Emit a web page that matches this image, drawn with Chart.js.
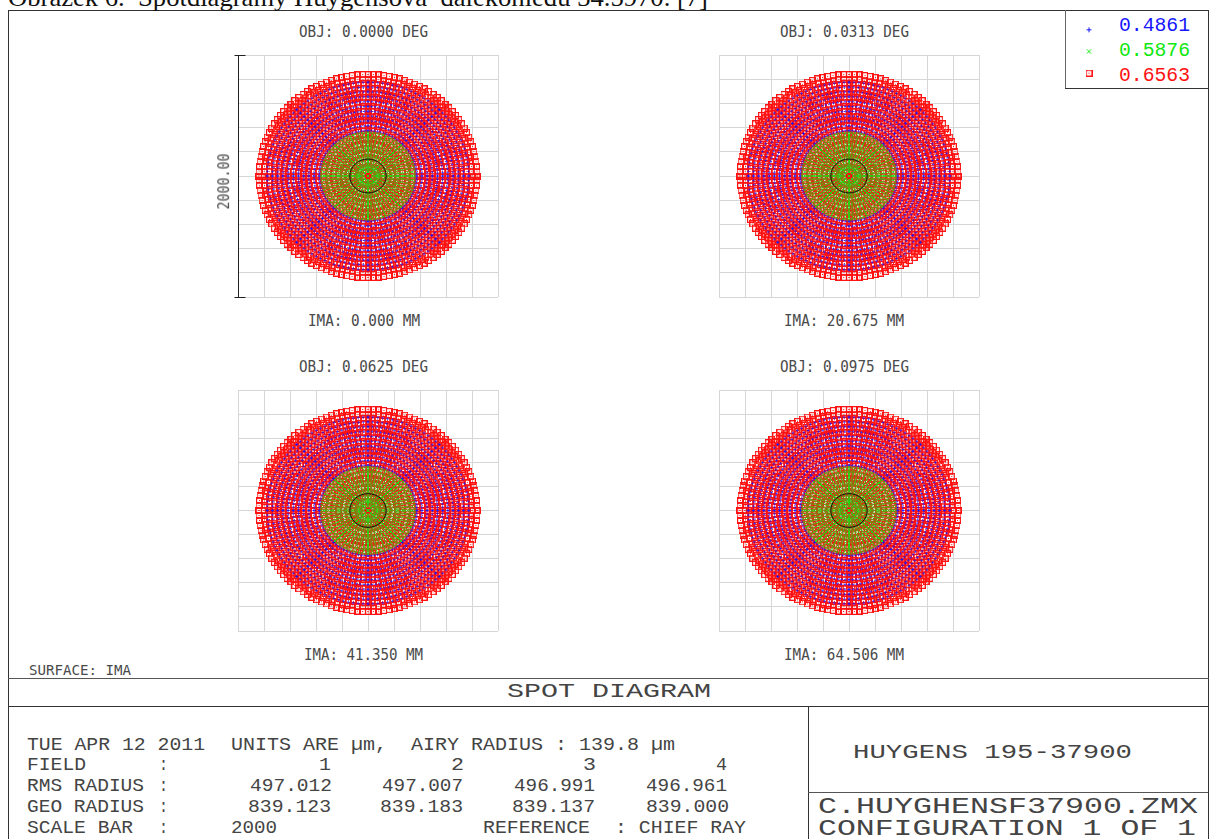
<!DOCTYPE html>
<html>
<head>
<meta charset="utf-8">
<title>Spot diagram</title>
<script src="https://cdn.jsdelivr.net/npm/chart.js@4"></script>
<style>
  html, body { margin: 0; background: #fff; overflow: hidden; }
  #page { position: relative; width: 1222px; height: 839px; overflow: hidden; }
  #page canvas { position: absolute; }
  .rule { position: absolute; background: #333; }
  .txt {
    position: absolute; white-space: pre; line-height: 1;
    font-family: "DejaVu Sans Mono", monospace; color: #4a4a4a;
    transform-origin: 0 50%;
  }
  .thin { font-family: "Liberation Mono", monospace; color: #444; }
</style>
</head>
<body>
<div id="page"></div>
<script>
// wavelengths (um) and their colours
const wavelengths = ['0.4861', '0.5876', '0.6563'];
const waveColors = ['#1616ff', '#10e810', '#ff1212'];
const spotColors = ['rgba(22,22,255,0.6)', 'rgba(16,232,16,0.75)', '#ff1212'];

// one field point per panel
const objLabels = ['OBJ: 0.0000 DEG', 'OBJ: 0.0313 DEG', 'OBJ: 0.0625 DEG', 'OBJ: 0.0975 DEG'];
const imaLabels = ['IMA: 0.000 MM', 'IMA: 20.675 MM', 'IMA: 41.350 MM', 'IMA: 64.506 MM'];

const airyRadius = 139.8;
const scaleBar = 2000;
const gridStep = 200;

// ray hits in um, one octant of the spot
const redOctant = [
  [839,0],[838,41],[835,82],[830,123],[823,164],[814,204],[803,244],[790,283],[775,321],[758,359],[740,396],[720,431],[698,466],[674,500],[649,532],[622,563],[593,593],
  [800,0],[799,39],[796,78],[791,117],[785,156],[776,194],[766,232],[753,270],[739,306],[723,342],[706,377],[686,411],[665,444],[643,477],[618,508],[593,537],[566,566],
  [762,0],[761,37],[758,75],[754,112],[747,149],[739,185],[729,221],[717,257],[704,292],[689,326],[672,359],[654,392],[634,423],[612,454],[589,483],[565,512],[539,539],
  [724,0],[723,36],[721,71],[716,106],[710,141],[702,176],[693,210],[682,244],[669,277],[655,310],[638,341],[621,372],[602,402],[582,431],[560,459],[536,486],[512,512],
  [686,0],[685,34],[683,67],[679,101],[673,134],[665,167],[656,199],[646,231],[634,263],[620,293],[605,323],[588,353],[570,381],[551,409],[530,435],[508,461],[485,485],
  [648,0],[647,32],[645,64],[641,95],[636,126],[629,157],[620,188],[610,218],[599,248],[586,277],[571,305],[556,333],[539,360],[520,386],[501,411],[480,435],[458,458],
  [610,0],[609,40],[605,80],[598,119],[589,158],[578,196],[564,233],[547,270],[528,305],[507,339],[484,371],[459,402],[431,431],
  [572,0],[571,37],[567,75],[561,112],[553,148],[542,184],[528,219],[513,253],[495,286],[476,318],[454,348],[430,377],[404,404],
  [534,0],[533,35],[529,70],[524,104],[516,138],[506,172],[493,204],[479,236],[462,267],[444,297],[424,325],[401,352],[378,378],
  [496,0],[495,32],[492,65],[486,97],[479,128],[470,159],[458,190],[445,219],[430,248],[412,276],[394,302],[373,327],[351,351],
  [458,0],[457,30],[454,60],[449,89],[442,119],[434,147],[423,175],[411,203],[397,229],[381,254],[363,279],[344,302],[324,324],
  [420,0],[418,41],[412,82],[402,122],[388,161],[370,198],[349,233],[325,266],[297,297],
  [382,0],[380,37],[375,75],[366,111],[353,146],[337,180],[318,212],[295,242],[270,270],
  [344,0],[342,34],[337,67],[329,100],[318,132],[303,162],[286,191],[266,218],[243,243],
  [306,0],[305,30],[300,60],[293,89],[283,117],[270,144],[254,170],[237,194],[216,216],
  [268,0],[266,35],[259,69],[248,103],[232,134],[213,163],[190,190],
  [230,0],[228,30],[222,60],[212,88],[199,115],[182,140],[163,163],
  [192,0],[190,25],[185,50],[177,73],[166,96],[152,117],[136,136],
  [154,0],[151,30],[142,59],[128,86],[109,109],
  [116,0],[114,23],[107,44],[96,64],[82,82],
  [78,0],[72,30],[55,55],
  [40,0],[28,28],
  [0,0],
];
const blueOctant = [
  [775,0],[774,38],[771,76],[767,114],[760,151],[752,188],[742,225],[730,261],[716,297],[701,331],[683,365],[665,398],[644,431],[622,462],[599,492],[574,521],[548,548],
  [735,0],[734,36],[731,72],[727,108],[721,143],[713,179],[703,213],[692,248],[679,281],[664,314],[648,346],[630,378],[611,408],[590,438],[568,466],[545,494],[520,520],
  [695,0],[694,34],[692,68],[687,102],[682,136],[674,169],[665,202],[654,234],[642,266],[628,297],[613,328],[596,357],[578,386],[558,414],[537,441],[515,467],[491,491],
  [655,0],[654,32],[652,64],[648,96],[642,128],[635,159],[627,190],[617,221],[605,251],[592,280],[578,309],[562,337],[545,364],[526,390],[506,416],[485,440],[463,463],
  [615,0],[614,30],[612,60],[608,90],[603,120],[597,149],[588,179],[579,207],[568,235],[556,263],[542,290],[527,316],[511,342],[494,366],[475,390],[456,413],[435,435],
  [575,0],[574,28],[572,56],[569,84],[564,112],[558,140],[550,167],[541,194],[531,220],[520,246],[507,271],[493,296],[478,319],[462,343],[444,365],[426,386],[407,407],
  [535,0],[534,26],[532,52],[529,78],[525,104],[519,130],[512,155],[504,180],[494,205],[484,229],[472,252],[459,275],[445,297],[430,319],[414,339],[396,359],[378,378],
  [495,0],[494,32],[491,65],[485,97],[478,128],[469,159],[457,189],[444,219],[429,248],[412,275],[393,301],[372,326],[350,350],
  [455,0],[454,30],[451,59],[446,89],[439,118],[431,146],[420,174],[408,201],[394,228],[378,253],[361,277],[342,300],[322,322],
  [415,0],[414,27],[411,54],[407,81],[401,107],[393,133],[383,159],[372,184],[359,208],[345,231],[329,253],[312,274],[293,293],
  [375,0],[374,25],[372,49],[368,73],[362,97],[355,121],[346,144],[336,166],[325,188],[312,208],[298,228],[282,247],[265,265],
];
const greenOctant = [
  [358,0],[357,23],[355,47],[351,70],[346,93],[339,115],[331,137],[321,158],[310,179],[298,199],[284,218],[269,236],[253,253],
  [340,0],[338,33],[333,66],[325,99],[314,130],[300,160],[283,189],[263,216],[240,240],
  [322,0],[321,21],[319,42],[316,63],[311,83],[305,103],[297,123],[289,142],[279,161],[268,179],[255,196],[242,212],[228,228],
  [304,0],[303,30],[298,59],[291,88],[281,116],[268,143],[253,169],[235,193],[215,215],
  [286,0],[285,28],[281,56],[274,83],[264,109],[252,135],[238,159],[221,181],[202,202],
  [268,0],[267,26],[263,52],[256,78],[248,103],[236,126],[223,149],[207,170],[190,190],
  [250,0],[249,25],[245,49],[239,73],[231,96],[220,118],[208,139],[193,159],[177,177],
  [232,0],[231,23],[228,45],[222,67],[214,89],[205,109],[193,129],[179,147],[164,164],
  [214,0],[213,21],[210,42],[205,62],[198,82],[189,101],[178,119],[165,136],[151,151],
  [196,0],[194,26],[189,51],[181,75],[170,98],[156,119],[139,139],
  [178,0],[176,23],[172,46],[164,68],[154,89],[141,108],[126,126],
  [160,0],[159,21],[155,41],[148,61],[139,80],[127,97],[113,113],
  [142,0],[141,19],[137,37],[131,54],[123,71],[113,86],[100,100],
  [124,0],[122,24],[115,47],[103,69],[88,88],
  [106,0],[104,21],[98,41],[88,59],[75,75],
  [88,0],[86,17],[81,34],[73,49],[62,62],
  [70,0],[69,14],[65,27],[58,39],[49,49],
  [52,0],[48,20],[37,37],
  [34,0],[24,24],
  [0,0],
];

// bottom table
const fieldRow = ['1', '2', '3', '4'];
const rmsRadius = ['497.012', '497.007', '496.991', '496.961'];
const geoRadius = ['839.123', '839.183', '839.137', '839.000'];

const page = document.getElementById('page');

function rule(x, y, w, h, color) {
  const d = document.createElement('div');
  d.className = 'rule';
  d.style.cssText = `left:${x}px;top:${y}px;width:${w}px;height:${h}px;` + (color ? `background:${color}` : '');
  page.appendChild(d);
}

// text squeezed or stretched to run from x0 to x1, centred on cy
function label(text, x0, x1, cy, size, opts = {}) {
  const s = document.createElement('span');
  s.className = 'txt' + (opts.thin ? ' thin' : '');
  s.textContent = text;
  s.style.fontSize = size + 'px';
  if (opts.family) s.style.fontFamily = opts.family;
  if (opts.color) s.style.color = opts.color;
  page.appendChild(s);
  const w = s.getBoundingClientRect().width;
  const k = (x1 - x0) / w;
  s.style.left = x0 + 'px';
  s.style.top = (cy - s.offsetHeight / 2) + 'px';
  s.style.transform = `scaleX(${k})`;
  if (opts.rotate) {
    s.style.transformOrigin = '50% 50%';
    s.style.left = (x0 - w / 2) + 'px';
    s.style.transform = `rotate(-90deg) scaleX(${k})`;
  }
  return s;
}

// the red marker is a box with a dot in the middle
function boxMarker(color) {
  const c = document.createElement('canvas');
  c.width = 7;
  c.height = 7;
  const g = c.getContext('2d');
  g.strokeStyle = color;
  g.lineWidth = 1.2;
  g.strokeRect(0.6, 0.6, 5.8, 5.8);
  g.fillStyle = color;
  g.fillRect(3, 3, 1, 1);
  return c;
}

// the octant repeated through the eight symmetric positions
function fullSpot(octant) {
  const pts = [];
  octant.forEach(([a, b]) => {
    [[a, b], [b, a]].forEach(([x, y]) => {
      [1, -1].forEach(sx => [1, -1].forEach(sy => pts.push({ x: sx * x, y: sy * y })));
    });
  });
  return pts;
}

const redBox = boxMarker(waveColors[2]);
const markerStyles = [
  { pointStyle: 'cross', pointRadius: 1.5, borderWidth: 1 },
  { pointStyle: 'crossRot', pointRadius: 1.5, borderWidth: 1 },
  { pointStyle: redBox, pointRadius: 4 },
];
const legendStyles = [
  { pointStyle: 'cross', pointRadius: 2.5, borderWidth: 1 },
  { pointStyle: 'crossRot', pointRadius: 3, borderWidth: 1 },
  { pointStyle: redBox, pointRadius: 4 },
];

const airyCircle = {
  id: 'airyCircle',
  afterDatasetsDraw(chart) {
    const { ctx, scales: { x, y } } = chart;
    ctx.save();
    ctx.strokeStyle = '#111';
    ctx.lineWidth = 1;
    ctx.beginPath();
    ctx.ellipse(x.getPixelForValue(0), y.getPixelForValue(0),
      x.getPixelForValue(airyRadius) - x.getPixelForValue(0),
      y.getPixelForValue(0) - y.getPixelForValue(airyRadius), 0, 0, Math.PI * 2);
    ctx.stroke();
    ctx.restore();
  },
};

const scaleBarMark = {
  id: 'scaleBarMark',
  afterDraw(chart) {
    const { ctx, scales: { x, y } } = chart;
    const bx = Math.round(x.getPixelForValue(-scaleBar / 2)) + 0.5;
    const top = Math.round(y.getPixelForValue(scaleBar / 2)) + 0.5;
    const bottom = Math.round(y.getPixelForValue(-scaleBar / 2)) + 0.5;
    ctx.save();
    ctx.strokeStyle = '#222';
    ctx.beginPath();
    ctx.moveTo(bx, top);
    ctx.lineTo(bx, bottom);
    ctx.moveTo(bx - 4, top);
    ctx.lineTo(bx + 7, top);
    ctx.moveTo(bx - 4, bottom);
    ctx.lineTo(bx + 7, bottom);
    ctx.stroke();
    ctx.restore();
  },
};

function spotChart(left, top, height, withBar) {
  const pad = 10;
  const c = document.createElement('canvas');
  c.style.left = (left - pad) + 'px';
  c.style.top = (top - pad) + 'px';
  c.width = 260 + pad * 2;
  c.height = height + pad * 2;
  page.appendChild(c);
  const axis = {
    type: 'linear',
    min: -scaleBar / 2,
    max: scaleBar / 2,
    grid: { color: '#d6d6d6', lineWidth: 1, drawTicks: false },
    border: { display: false },
    ticks: { display: false, stepSize: gridStep, autoSkip: false },
  };
  return new Chart(c, {
    type: 'scatter',
    data: {
      datasets: [blueOctant, greenOctant, redOctant].map((octant, i) => ({
        label: wavelengths[i],
        data: fullSpot(octant),
        borderColor: spotColors[i],
        backgroundColor: 'transparent',
        ...markerStyles[i],
        order: [2, 1, 3][i],
      })),
    },
    options: {
      responsive: false,
      animation: false,
      events: [],
      layout: { padding: pad },
      plugins: { legend: { display: false }, tooltip: { enabled: false } },
      scales: { x: axis, y: { ...axis } },
    },
    plugins: withBar ? [airyCircle, scaleBarMark] : [airyCircle],
  });
}

function legendChart() {
  const c = document.createElement('canvas');
  c.style.left = '1076px';
  c.style.top = '13.5px';
  c.width = 26;
  c.height = 75;
  page.appendChild(c);
  return new Chart(c, {
    type: 'scatter',
    data: {
      datasets: wavelengths.map((w, i) => ({
        label: w,
        data: [{ x: 0, y: i }],
        borderColor: waveColors[i],
        backgroundColor: 'transparent',
        ...legendStyles[i],
      })),
    },
    options: {
      responsive: false,
      animation: false,
      events: [],
      plugins: { legend: { display: false }, tooltip: { enabled: false } },
      scales: {
        x: { display: false, min: -1, max: 1 },
        y: { display: false, min: -0.5, max: 2.5, reverse: true },
      },
    },
  });
}

// frame
rule(8, 10, 1201, 1);
rule(8, 10, 1, 829);
rule(1208, 10, 1, 829);
rule(8, 678, 1201, 1, '#555');
rule(8, 706, 1201, 1);
rule(808, 706, 1, 133);
rule(808, 792, 400, 1, '#555');
rule(1065, 10, 1, 78, '#666');
rule(1065, 88, 143, 1);

// clipped caption above the frame
label('Obrázek 6.  Spotdiagramy Huygensova  dalekohledu 34.5970. [7]', 8, 708, -2.5, 26,
  { family: '"Liberation Serif", serif', color: '#111' });

// panels
spotChart(238, 55, 242, true);
spotChart(719, 55, 242, false);
spotChart(238, 390, 241, false);
spotChart(719, 390, 241, false);

[[299, 428, 32], [780, 909, 32], [299, 428, 367], [780, 909, 367]].forEach(([a, b, y], i) => label(objLabels[i], a, b, y, 15));
[[308, 420, 321], [784, 904, 321], [304, 423, 655], [784, 904, 655]].forEach(([a, b, y], i) => label(imaLabels[i], a, b, y, 15));
label('2000.00', 225, 281, 181, 15, { rotate: true });
label('SURFACE: IMA', 29, 131, 670, 14);

// legend
legendChart();
[26, 51, 76].forEach((y, i) => label(wavelengths[i], 1119, 1190, y, 20, { thin: true, color: waveColors[i] }));

// bottom block
const big = { thin: true };
label('SPOT DIAGRAM', 507, 711, 691, 21, big);
label('TUE APR 12 2011', 27, 205, 745, 19, big);
label('UNITS ARE µm,  AIRY RADIUS : 139.8 µm', 231, 675, 745, 19, big);
label('FIELD', 27, 86, 765, 19, big);
label('RMS RADIUS', 27, 144, 786, 19, big);
label('GEO RADIUS', 27, 144, 807, 19, big);
label('SCALE BAR', 27, 133, 828, 19, big);
[765, 786, 807, 828].forEach(y => label(':', 159, 168, y, 19, big));
[[319, 331], [451, 464], [583, 596], [716, 727]].forEach(([a, b], i) => label(fieldRow[i], a, b, 765, 19, big));
[[250, 332], [382, 463], [514, 595], [646, 727]].forEach(([a, b], i) => label(rmsRadius[i], a, b, 786, 19, big));
[[248, 331], [380, 463], [512, 595], [646, 729]].forEach(([a, b], i) => label(geoRadius[i], a, b, 807, 19, big));
label(String(scaleBar), 231, 277, 828, 19, big);
label('REFERENCE', 483, 590, 828, 19, big);
label(': CHIEF RAY', 615, 746, 828, 19, big);

label('HUYGENS 195-37900', 853, 1132, 752, 21, big);
label('C.HUYGHENSF37900.ZMX', 818, 1198, 808, 22, big);
label('CONFIGURATION 1 OF 1', 818, 1196, 830, 22, big);
</script>
</body>
</html>
